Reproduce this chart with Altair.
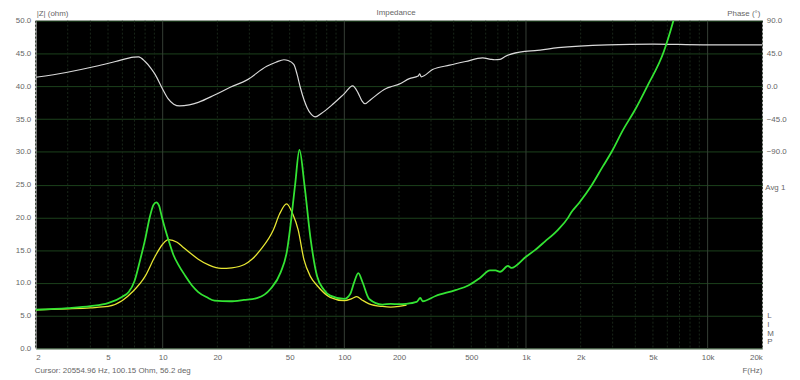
import altair as alt
import pandas as pd

# ---- data ----
green_f = [2, 3, 4, 5, 6, 6.5, 7, 7.5, 8.0, 8.5, 8.9, 9.22, 9.55, 9.89, 10.3, 10.75, 11.45, 12.3, 13.3, 14.5,
           15.7, 17.5, 19.3, 23.5, 28, 33.3, 39.3, 44.6, 48.5, 50.2, 53.6, 56.6, 60.3, 65, 70.8, 77, 83.6,
           100, 107.7, 113, 119.4, 126, 137, 162, 180, 200, 218, 250, 262, 270, 318, 409, 481, 560, 634,
           680, 720, 796, 830, 1000, 1120, 1270, 1500, 1710, 1770, 1960, 2300, 2640, 2990, 3400, 4000,
           4650, 5740, 6450, 6700]
green_z = [5.9, 6.15, 6.45, 6.9, 7.9, 8.6, 10.3, 13.4, 16.6, 20.1, 21.9, 22.3, 21.8, 20.1, 18.3, 16.6, 14.3,
           12.6, 11.1, 9.6, 8.6, 7.8, 7.3, 7.2, 7.4, 7.7, 9.1, 11.6, 15.1, 18.1, 25.0, 30.3, 25.0, 17.0, 11.0,
           9.0, 8.05, 7.55, 8.3, 10.0, 11.5, 10.1, 7.55, 6.7, 6.8, 6.75, 6.8, 7.1, 7.7, 7.2, 8.0, 8.9, 9.6,
           10.8, 11.9, 11.9, 11.7, 12.6, 12.3, 14.0, 15.0, 16.3, 18.1, 20.0, 20.7, 22.2, 24.9, 27.7, 30.2,
           33.2, 36.5, 40.0, 45.3, 49.8, 51.5]

yellow_f = [2, 3, 4, 5, 6, 6.8, 8, 9.1, 10, 10.75, 12, 13, 14.4, 15.7, 18, 21, 24, 28.2, 31, 34.7, 40.7,
            44, 48.1, 52, 55.7, 60, 65, 70.8, 83.6, 100, 110, 117, 125, 137, 162, 180, 200, 220]
yellow_z = [5.9, 6.05, 6.2, 6.4, 7.3, 8.6, 11.0, 14.1, 15.9, 16.6, 16.2, 15.4, 14.4, 13.6, 12.7, 12.2, 12.3,
            12.8, 13.6, 15.1, 18.1, 20.5, 22.05, 20.5, 18.1, 13.5, 11.0, 9.6, 7.8, 7.3, 7.6, 7.9, 7.4, 6.8,
            6.4, 6.3, 6.4, 6.6]

phase_f = [2, 2.94, 4.29, 5.5, 6.93, 7.36, 8.0, 8.6, 9.1, 10, 10.7, 11.5, 12.4, 14, 15.7, 19.3, 23.7, 29,
           37.4, 42, 46.5, 49, 52.7, 55, 57.3, 62.3, 66, 69, 75, 87, 100, 111, 119, 125, 130, 140, 170,
           184, 200, 228, 255, 260, 265, 306, 380, 465, 577, 640, 672, 720, 768, 990, 1120, 1500, 2810,
           5000, 9460, 20000]
phase_deg = [12.4, 19, 27.5, 34, 40, 40.5, 34, 25, 16, -4, -17, -24.5, -27, -25.5, -22, -12, -1, 8.5,
             27.5, 33, 36.5, 35.5, 30, 16, -2, -29, -39, -42, -37, -24, -10, 0.5, -9, -20, -24, -18, -3,
             0, 3, 10.5, 14, 17, 13, 23, 29, 34, 39, 37, 36.5, 37, 41, 48, 49, 53, 57, 58, 57, 57]

x_ticks = [2, 5, 10, 20, 50, 100, 200, 500, 1000, 2000, 5000, 10000, 20000]
z_ticks = [0, 5, 10, 15, 20, 25, 30, 35, 40, 45, 50]
phase_ticks = [90, 45, 0, -45, -90]
decades = [1, 10, 100, 1000, 10000]

minor_f = [m * d for d in decades for m in range(2, 10) if 2 <= m * d <= 20000]
major_f = [10, 100, 1000, 10000]

FONT = "Liberation Sans"
LAB = "#666666"
FS = 8

xscale = alt.Scale(type="log", domain=[2, 20000], nice=False)
x_axis = alt.Axis(values=x_ticks, grid=False, domain=False, ticks=False, title=None,
                  labelExpr="datum.value >= 1000 ? (datum.value/1000) + 'k' : datum.value",
                  labelFont=FONT, labelFontSize=FS, labelColor=LAB, labelPadding=5,
                  labelOverlap=False)
x_enc = alt.X("f:Q", scale=xscale, axis=x_axis)

vminor = alt.Chart(pd.DataFrame({"f": minor_f})).mark_rule(
    color="#192619", strokeWidth=1, strokeDash=[2, 2]).encode(x=x_enc)
vmajor = alt.Chart(pd.DataFrame({"f": major_f})).mark_rule(
    color="#363f36", strokeWidth=1).encode(x=x_enc)

zscale = alt.Scale(domain=[0, 50], nice=False, zero=False)

yellow = alt.Chart(pd.DataFrame({"f": yellow_f, "z": yellow_z})).mark_line(
    color="#e6e632", strokeWidth=1.3, interpolate="monotone", clip=True).encode(
    x=x_enc, y=alt.Y("z:Q", scale=zscale, axis=None))

phase = alt.Chart(pd.DataFrame({"f": phase_f, "p": phase_deg})).mark_line(
    color="#d8d8d8", strokeWidth=1.2, interpolate="monotone", clip=True).encode(
    x=x_enc,
    y=alt.Y("p:Q", scale=alt.Scale(domain=[-360, 90], nice=False, zero=False),
            axis=alt.Axis(orient="right", values=phase_ticks, format=".1f", grid=False,
                          domain=False, ticks=False, title=None, labelFont=FONT,
                          labelFontSize=FS, labelColor=LAB, labelPadding=4, labelAlign="left")))

green = alt.Chart(pd.DataFrame({"f": green_f, "z": green_z})).mark_line(
    color="#33e333", strokeWidth=1.8, interpolate="monotone", clip=True).encode(
    x=x_enc,
    y=alt.Y("z:Q", scale=zscale,
            axis=alt.Axis(orient="left", values=z_ticks, format=".1f", grid=True,
                          gridColor="#1c421c", gridWidth=1, domain=True, domainColor="#bbbbbb",
                          ticks=False, title=None, labelFont=FONT, labelFontSize=FS,
                          labelColor=LAB, labelPadding=5)))


def label(txt, x, y, align="left", size=FS, color=LAB, **kw):
    return alt.Chart(pd.DataFrame({"t": [txt]})).mark_text(
        align=align, baseline="middle", font=FONT, fontSize=size, color=color, **kw).encode(
        text="t:N", x=alt.value(x), y=alt.value(y))


texts = [
    label("|Z| (ohm)", 1, -7),
    label("Impedance", 364, -8, align="center"),
    label("Phase (°)", 732, -7, align="right"),
    label("Avg 1", 737, 169),
    label("L\nI\nM\nP", 739, 298, lineBreak="\n", lineHeight=9),
    label("Cursor: 20554.96 Hz, 100.15 Ohm, 56.2 deg", -1, 354),
    label("F(Hz)", 734, 354, align="right"),
]

chart = alt.layer(vminor, vmajor, yellow, phase, green, *texts).resolve_scale(
    y="independent").properties(
    width=734, height=331,
    padding={"left": 28, "top": 11, "right": 30, "bottom": 30},
    autosize=alt.AutoSizeParams(type="none"),
    background="white",
).configure_view(fill="black", stroke=None)

chart.save("out.html", embed_options={"renderer": "svg", "actions": False})
